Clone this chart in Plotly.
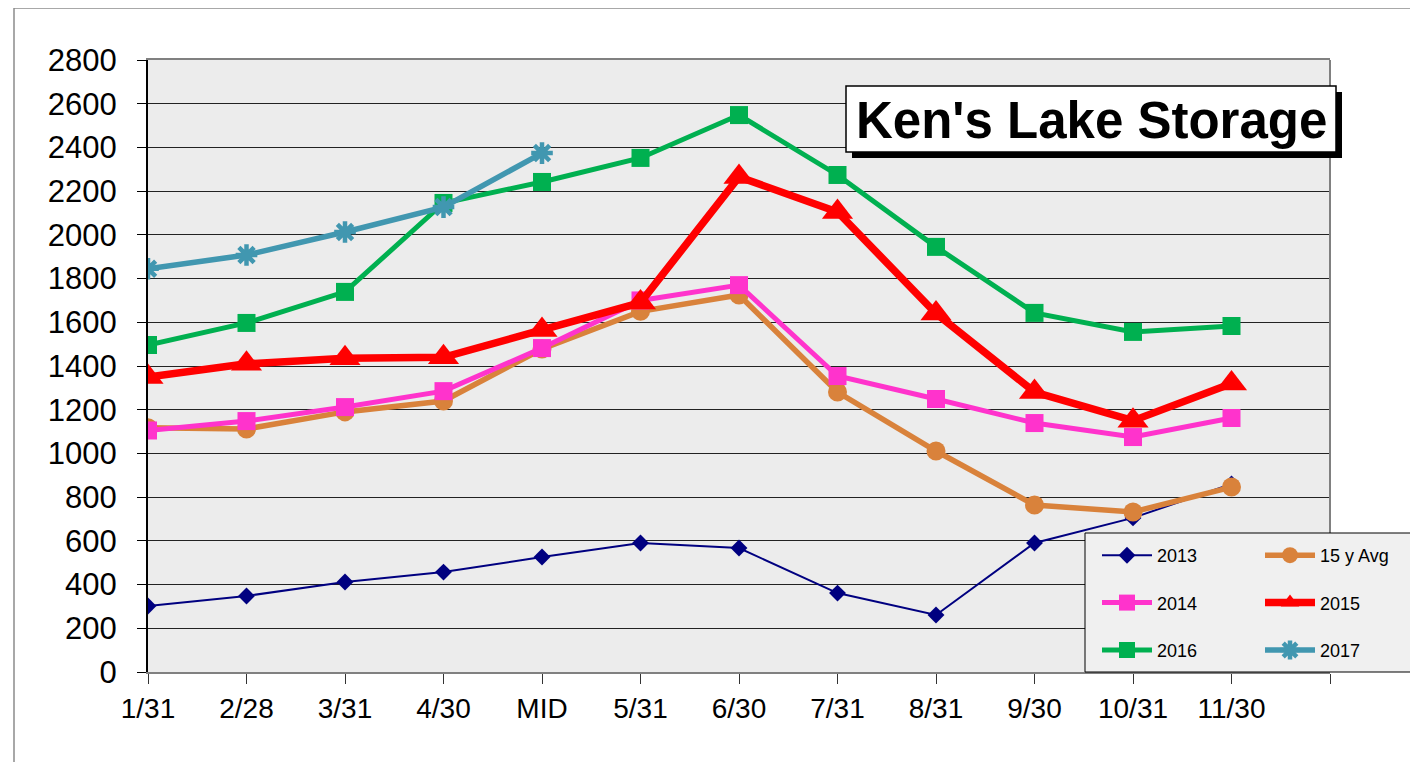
import plotly.graph_objects as go

categories = ["1/31", "2/28", "3/31", "4/30", "MID", "5/31", "6/30", "7/31", "8/31", "9/30", "10/31", "11/30"]
y2013 = [302, 348, 412, 457, 526, 590, 567, 361, 261, 590, 705, 860]
avg15 = [1118, 1112, 1190, 1240, 1478, 1650, 1725, 1281, 1011, 764, 732, 846]
y2014 = [1105, 1148, 1212, 1285, 1482, 1700, 1770, 1354, 1249, 1139, 1075, 1162]
y2015 = [1350, 1410, 1435, 1440, 1565, 1690, 2265, 2105, 1640, 1281, 1150, 1320]
y2016 = [1496, 1597, 1739, 2146, 2242, 2352, 2548, 2274, 1945, 1643, 1556, 1583]
y2017 = [1845, 1908, 2013, 2127, 2374]
yticks = list(range(0, 2801, 200))
title_text = "Ken's Lake Storage"

FONT = "Liberation Sans, Arial, sans-serif"
xidx = list(range(len(categories)))

series = [
    ("2013", y2013, "#000080", 2, "diamond", 13, "legend"),
    ("15 y Avg", avg15, "#D9823B", 5.5, "circle", 19, "legend2"),
    ("2014", y2014, "#FF33CC", 5, "square", 18, "legend"),
    ("2015", y2015, "#FF0000", 7.5, "triangle-up", 27, "legend2"),
    ("2016", y2016, "#00B050", 5, "square", 18, "legend"),
    ("2017", y2017, "#4197B0", 5.5, "asterisk", 18, "legend2"),
]

fig = go.Figure()
for i, (name, vals, color, w, sym, size, leg) in enumerate(series):
    mk = dict(symbol=sym, size=size, color=color)
    if sym == "asterisk":
        mk["line"] = dict(color=color, width=4.5)
    fig.add_trace(go.Scatter(
        x=xidx[:len(vals)], y=vals, name=name, mode="lines+markers",
        line=dict(color=color, width=w), marker=mk,
        legend=leg, legendgroup=name,
    ))

# page has an 8px body margin; the figure is sized/offset to compensate
OFF = 8
W, H = 1418 - OFF, 762 - OFF
L, R, T, B = 148 - OFF, 1330 - OFF, 60 - OFF, 672 - OFF


def px(x):
    return (x - OFF - L) / (R - L)


def py(y):
    return (B - (y - OFF)) / (B - T)


shapes = [
    # outer chart border
    dict(type="rect", xref="paper", yref="paper", x0=px(14), x1=px(1413), y0=py(790), y1=py(8),
         line=dict(color="#8c8c8c", width=1.5), fillcolor="rgba(0,0,0,0)", layer="below"),
    # right border of plot area
    dict(type="line", xref="paper", yref="paper", x0=1, x1=1, y0=0, y1=1,
         line=dict(color="#808080", width=2), layer="above"),
    # title shadow
    dict(type="rect", xref="paper", yref="paper", x0=px(852), x1=px(1342), y0=py(158), y1=py(92),
         line=dict(color="black", width=0), fillcolor="black", layer="above"),
    # title box
    dict(type="rect", xref="paper", yref="paper", x0=px(846), x1=px(1336), y0=py(152), y1=py(86),
         line=dict(color="black", width=1.5), fillcolor="white", layer="above"),
    # legend box
    dict(type="rect", xref="paper", yref="paper", x0=px(1085), x1=px(1413), y0=py(672), y1=py(533),
         line=dict(color="black", width=1), fillcolor="#F0F0F0", layer="above"),
]

fig.update_layout(
    width=W, height=H,
    margin=dict(l=L, r=W - R, t=T, b=H - B, pad=0),
    paper_bgcolor="white", plot_bgcolor="#ECECEC",
    font=dict(family=FONT, color="black"),
    shapes=shapes,
    annotations=[dict(text="<b>" + title_text + "</b>", xref="paper", yref="paper",
                      x=px(1091), y=py(120), xanchor="center", yanchor="middle",
                      showarrow=False, font=dict(size=51, family=FONT, color="black"))],
    xaxis=dict(range=[0, 12], tickmode="array", tickvals=list(range(13)),
               ticktext=categories + [""], showgrid=False, zeroline=False,
               showline=True, linecolor="#808080", linewidth=2, mirror=True,
               ticks="outside", ticklen=10, tickcolor="#333", tickwidth=1,
               tickfont=dict(size=28, family=FONT)),
    yaxis=dict(range=[0, 2800], tickmode="array", tickvals=yticks,
               showgrid=True, gridcolor="#222", gridwidth=1, zeroline=False,
               showline=True, linecolor="black", linewidth=2,
               ticks="outside", ticklen=9, tickcolor="black", tickwidth=1,
               ticklabelstandoff=14,
               tickfont=dict(size=31, family=FONT)),
    legend=dict(x=px(1097), y=py(537), xanchor="left", yanchor="top",
                bgcolor="rgba(0,0,0,0)", borderwidth=0, tracegroupgap=21,
                font=dict(size=18, family=FONT), itemwidth=50),
    legend2=dict(x=px(1260), y=py(537), xanchor="left", yanchor="top",
                 bgcolor="rgba(0,0,0,0)", borderwidth=0, tracegroupgap=21,
                 font=dict(size=18, family=FONT), itemwidth=50),
    showlegend=True,
)

fig.write_html("out.html")
